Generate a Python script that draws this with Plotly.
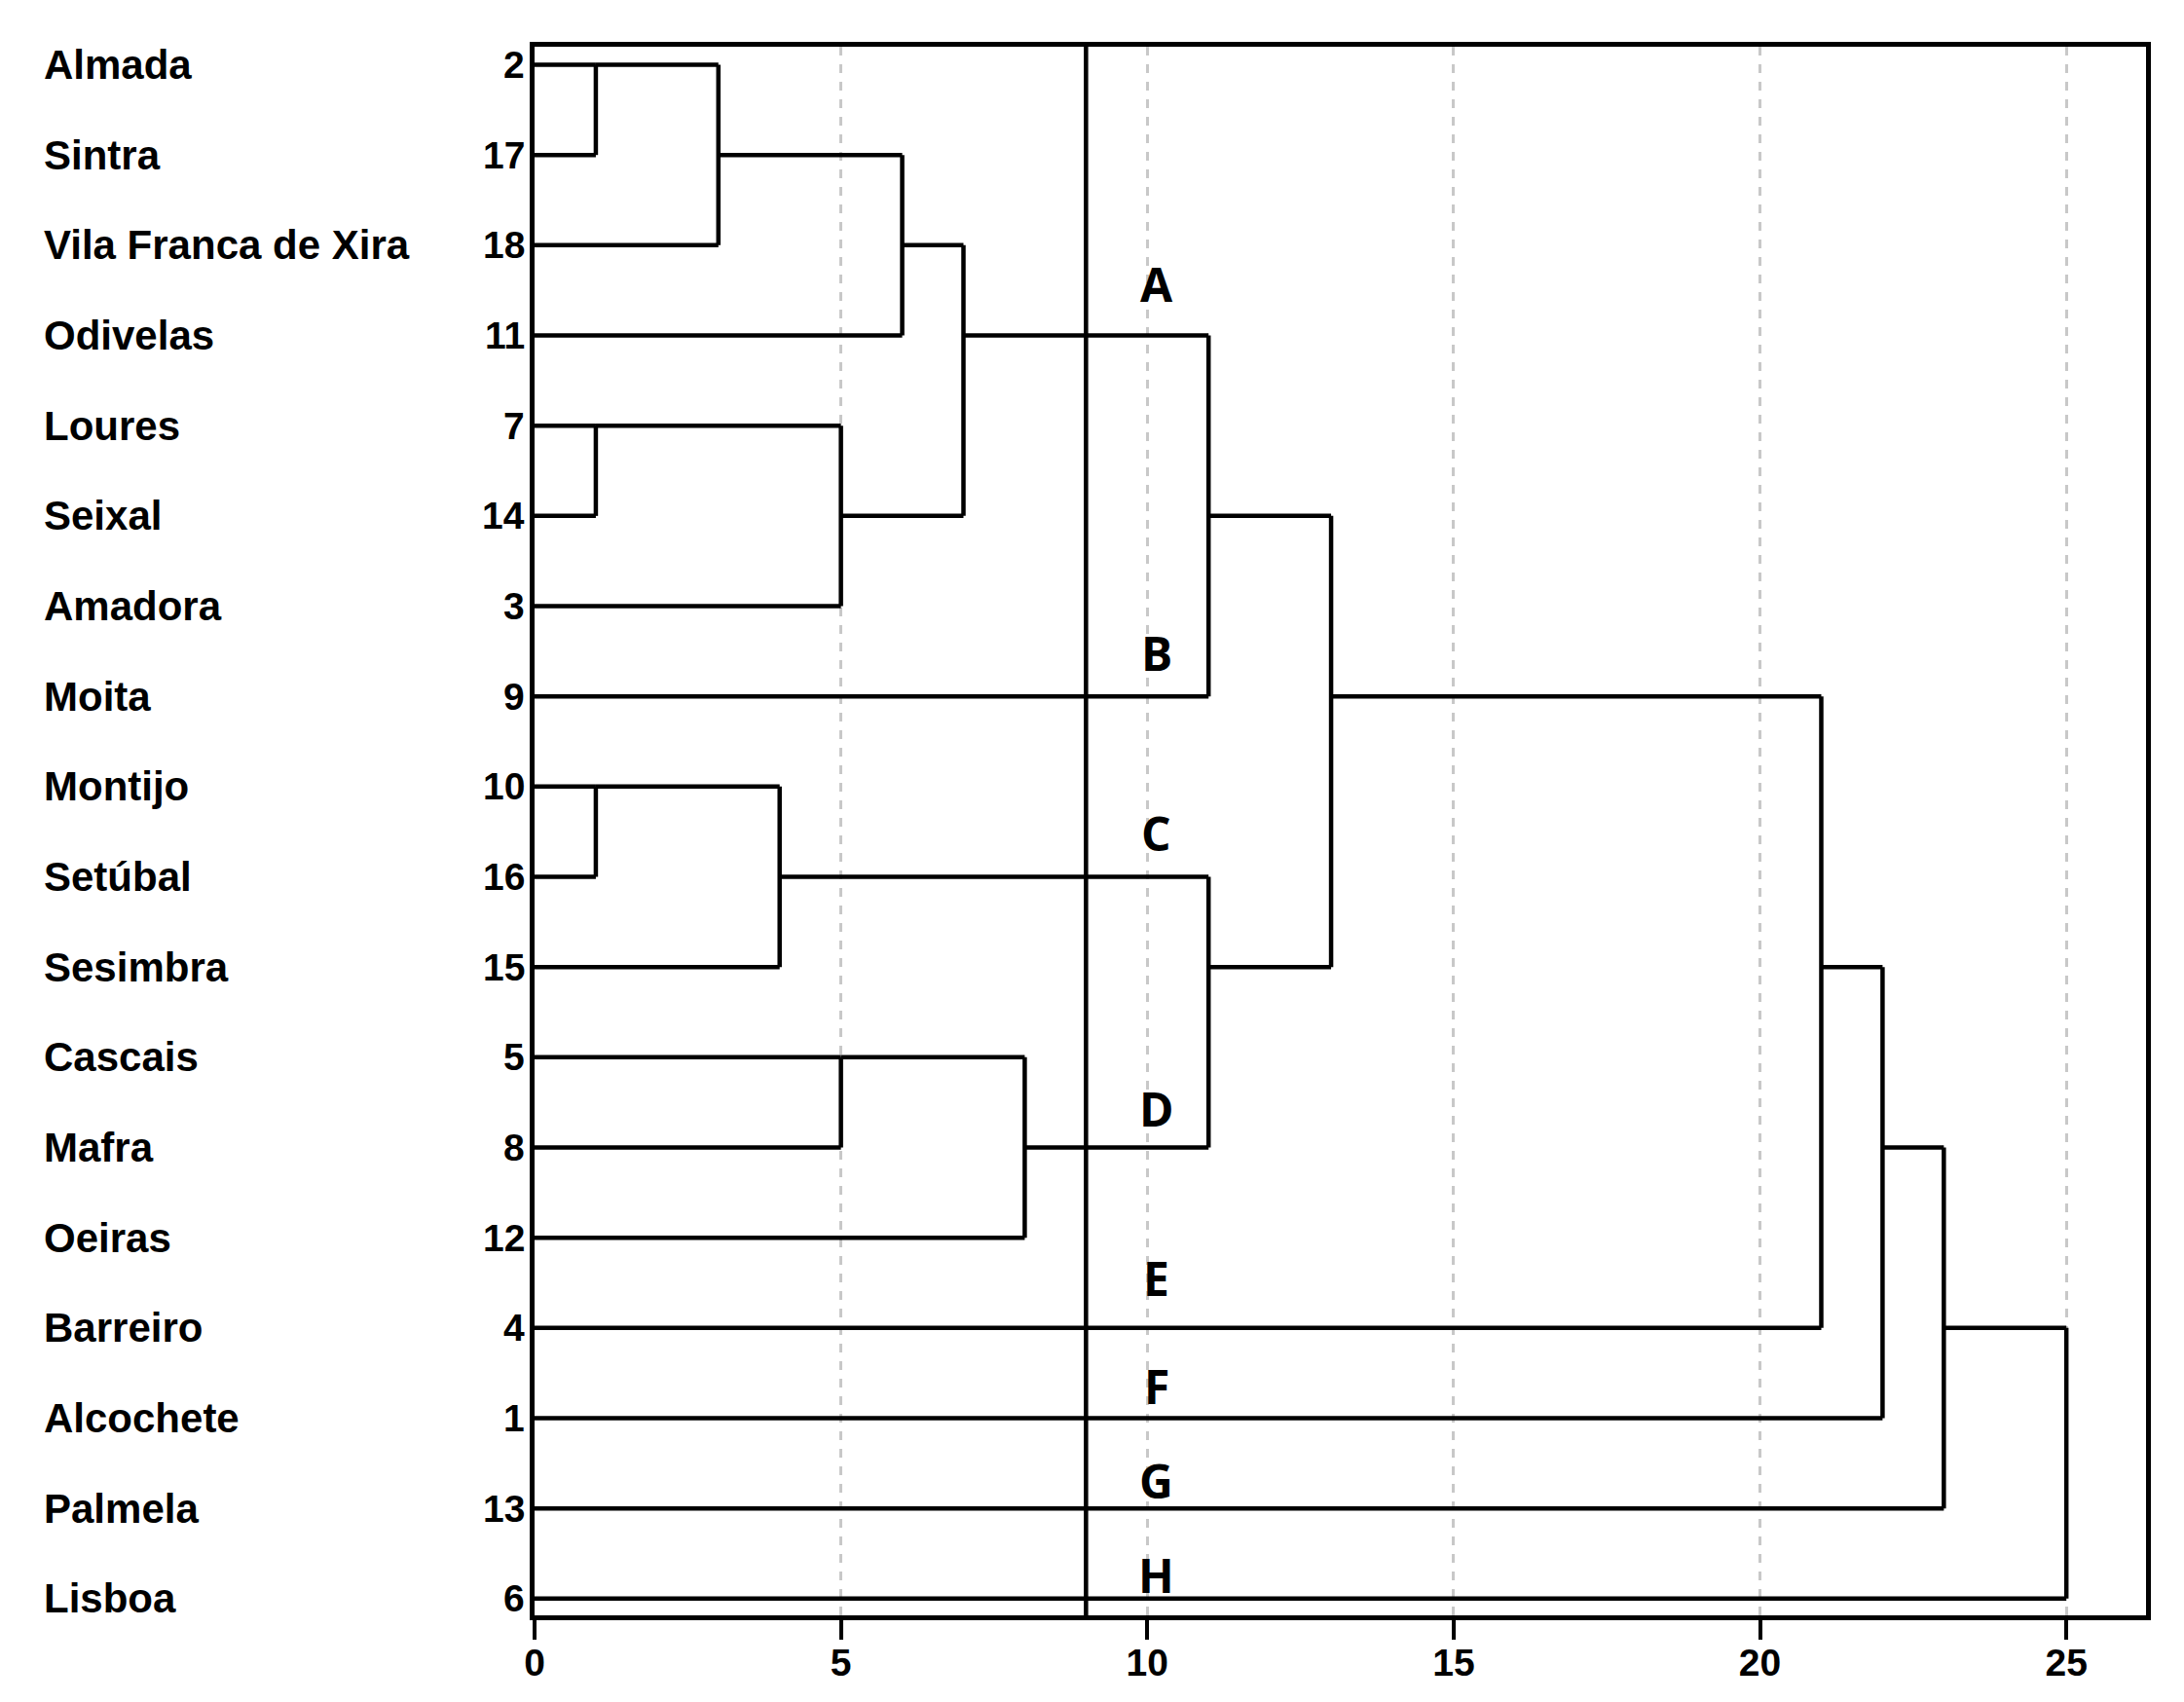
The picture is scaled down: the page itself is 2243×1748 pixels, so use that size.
import plotly.graph_objects as go

# ---------------- data ----------------
municipalities = ["Almada", "Sintra", "Vila Franca de Xira", "Odivelas", "Loures", "Seixal",
                  "Amadora", "Moita", "Montijo", "Setúbal", "Sesimbra", "Cascais", "Mafra",
                  "Oeiras", "Barreiro", "Alcochete", "Palmela", "Lisboa"]
case_numbers = [2, 17, 18, 11, 7, 14, 3, 9, 10, 16, 15, 5, 8, 12, 4, 1, 13, 6]

# agglomeration schedule: leaves are 0..17, each merge creates node 18, 19, ...
merge_left = [0, 18, 19, 4, 21, 20, 23, 8, 25, 11, 27, 26, 24, 30, 31, 32, 33]
merge_right = [1, 2, 3, 5, 6, 22, 7, 9, 10, 12, 13, 28, 29, 14, 15, 16, 17]
merge_distance = [1, 3, 6, 1, 5, 7, 11, 1, 4, 5, 8, 11, 13, 21, 22, 23, 25]

cut_distance = 9
cluster_letters = ["A", "B", "C", "D", "E", "F", "G", "H"]
x_ticks = [0, 5, 10, 15, 20, 25]

# ---------------- build dendrogram segments ----------------
n = len(municipalities)
pos = {i: i for i in range(n)}
hgt = {i: 0 for i in range(n)}
xs, ys = [], []
for k, (a, b, d) in enumerate(zip(merge_left, merge_right, merge_distance)):
    node = n + k
    xs += [hgt[a], d, None]; ys += [pos[a], pos[a], None]
    xs += [hgt[b], d, None]; ys += [pos[b], pos[b], None]
    xs += [d, d, None]; ys += [pos[a], pos[b], None]
    pos[node] = (pos[a] + pos[b]) // 2
    hgt[node] = d

fig = go.Figure()
fig.add_trace(go.Scatter(x=xs, y=ys, mode="lines",
                         line=dict(color="black", width=4.5),
                         hoverinfo="skip", showlegend=False))

# cut line
fig.add_shape(type="line", x0=cut_distance, x1=cut_distance, y0=0, y1=1,
              xref="x", yref="paper", line=dict(color="black", width=4.5))

# the page body adds an 8px offset; margins compensate for it
W, H = 2243, 1748
L, R, T, B = 541, 47, 40, 97
plot_w = W - L - R
OFF = 8

FAM = "Liberation Sans, Arial, sans-serif"
name_font = dict(family=FAM, size=42, color="black", weight="bold")
num_font = dict(family=FAM, size=39, color="black", weight="bold")
annotations = []
for i, (name, num) in enumerate(zip(municipalities, case_numbers)):
    annotations.append(dict(x=(43 - OFF - L) / plot_w, y=i, xref="paper", yref="y",
                            text=name, showarrow=False, xanchor="left", yanchor="middle",
                            font=name_font))
    annotations.append(dict(x=(541 - OFF - L) / plot_w, y=i, xref="paper", yref="y",
                            text=str(num), showarrow=False, xanchor="right", yanchor="middle",
                            font=num_font))

letter_rows = [2.43, 6.52, 8.51, 11.57, 13.45, 14.64, 15.69, 16.74]
for letter, r in zip(cluster_letters, letter_rows):
    annotations.append(dict(x=10.15, y=r, xref="x", yref="y", text="<b>%s</b>" % letter,
                            showarrow=False, xanchor="center", yanchor="middle",
                            font=dict(family="Open Sans, sans-serif", size=48, color="black")))

fig.update_layout(
    width=W, height=H,
    margin=dict(l=L, r=R, t=T, b=B),
    paper_bgcolor="white", plot_bgcolor="white",
    annotations=annotations,
    xaxis=dict(range=[0, 26.3], tickvals=x_ticks, ticktext=[str(t) for t in x_ticks],
               showgrid=True, gridcolor="#c8c8c8", gridwidth=3, griddash="dash",
               zeroline=False, showline=True, linecolor="black", linewidth=4.5, mirror=True,
               ticks="outside", ticklen=20, tickwidth=4, tickcolor="black",
               ticklabelstandoff=-10,
               tickfont=dict(family=FAM, size=39, color="black", weight="bold")),
    yaxis=dict(range=[17.185, -0.2], showgrid=False, zeroline=False, showticklabels=False,
               showline=True, linecolor="black", linewidth=4.5, mirror=True, ticks=""),
)

fig.write_html("out.html")
